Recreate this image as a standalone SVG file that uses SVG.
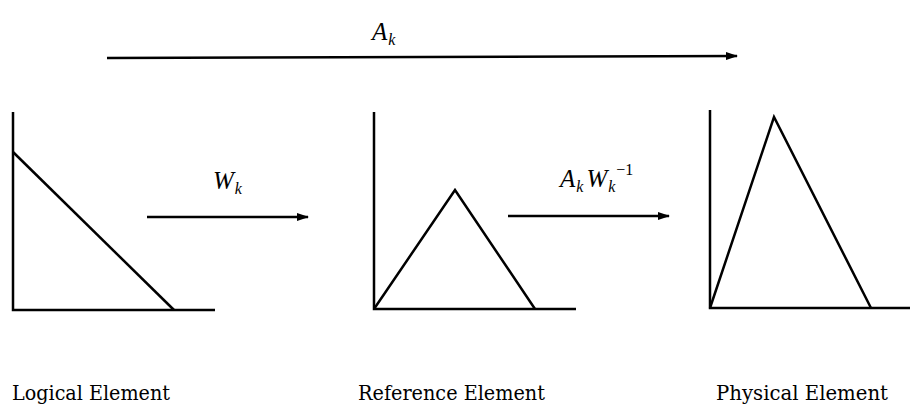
<svg xmlns="http://www.w3.org/2000/svg" width="914" height="406" viewBox="0 0 914 406">
<style>
.ln{stroke:#000;stroke-width:2.5;fill:none;stroke-linejoin:miter}
.ar{stroke:#000;stroke-width:2.5;fill:none}
.lbl{font-family:'DejaVu Serif','Liberation Serif',serif;font-size:21px;fill:#000}
.m{font-family:'Liberation Serif','DejaVu Serif',serif;font-style:italic;font-size:25px;fill:#000}
.s{font-size:16px}
</style>
<defs>
<marker id="ah" markerWidth="12" markerHeight="8" refX="11" refY="4" orient="auto" markerUnits="userSpaceOnUse">
<path d="M0,0 L12,4 L0,8 Z" fill="#000"/>
</marker>
</defs>
<rect width="914" height="406" fill="#fff"/>
<g id="logical">
<path class="ln" d="M13,112 V310 H215"/>
<path class="ln" d="M13,152 L174,310"/>
<text class="lbl" x="12" y="400" textLength="158" lengthAdjust="spacingAndGlyphs">Logical Element</text>
</g>
<g id="reference">
<path class="ln" d="M374,112 V309 H576"/>
<path class="ln" d="M374,309 L455,190 L535,309"/>
<text class="lbl" x="358" y="400" textLength="187" lengthAdjust="spacingAndGlyphs">Reference Element</text>
</g>
<g id="physical">
<path class="ln" d="M710,110 V308 H910"/>
<path class="ln" d="M710,308 L774,117 L871,308"/>
<text class="lbl" x="716" y="400" textLength="172" lengthAdjust="spacingAndGlyphs">Physical Element</text>
</g>
<g id="connectors">
<line class="ar" x1="107" y1="58" x2="737" y2="56" marker-end="url(#ah)"/>
<text class="m" x="372" y="40">A<tspan class="s" dx="1" dy="5">k</tspan></text>
<line class="ar" x1="147" y1="217" x2="308" y2="217" marker-end="url(#ah)"/>
<text class="m" x="213" y="189">W<tspan class="s" dx="1" dy="5">k</tspan></text>
<line class="ar" x1="508" y1="216" x2="669" y2="216" marker-end="url(#ah)"/>
<text class="m" x="560" y="187">A<tspan class="s" dx="1" dy="5">k</tspan><tspan dx="3" dy="-5">W</tspan><tspan class="s" dx="1" dy="5">k</tspan><tspan class="s" dx="1" dy="-17" font-style="normal">−1</tspan></text>
</g>
</svg>
